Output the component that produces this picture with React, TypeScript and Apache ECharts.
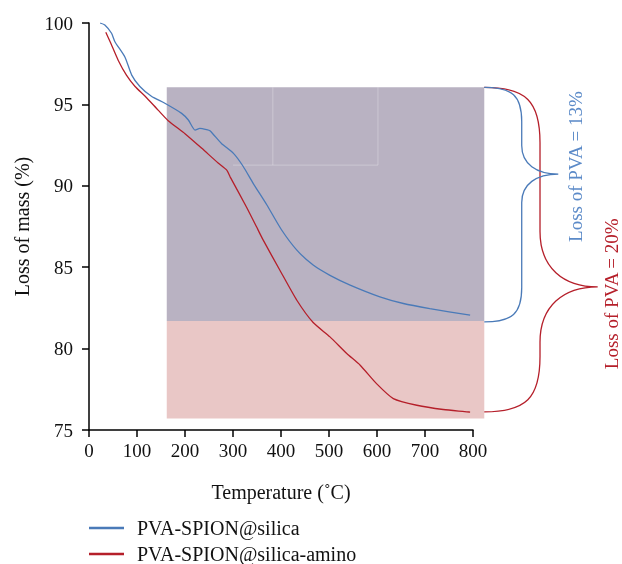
import React, { useEffect, useRef } from "react";
import * as echarts from "echarts";

// ---------- data ----------
const blueName = "PVA-SPION@silica";
const redName = "PVA-SPION@silica-amino";

const blueTemp = [23, 33, 47, 54, 75, 89, 106, 130, 158, 193, 207, 221, 231, 245, 252, 276, 301, 321, 342, 370, 401, 433, 467, 502, 544, 606, 655, 710, 794];
const blueMass = [100.0, 99.88, 99.37, 98.85, 97.9, 96.8, 96.1, 95.5, 95.07, 94.45, 94.04, 93.42, 93.53, 93.45, 93.38, 92.6, 91.99, 91.2, 90.15, 88.85, 87.3, 86.05, 85.13, 84.5, 83.9, 83.18, 82.77, 82.46, 82.05];

const redTemp = [35, 44, 61, 78, 96, 117, 144, 165, 200, 235, 269, 287, 294, 328, 349, 363, 398, 433, 467, 502, 537, 565, 599, 634, 683, 738, 794];
const redMass = [99.43, 98.85, 97.7, 96.8, 96.1, 95.5, 94.65, 94.0, 93.2, 92.3, 91.4, 90.96, 90.55, 88.7, 87.48, 86.66, 84.8, 82.97, 81.6, 80.72, 79.7, 78.98, 77.85, 76.93, 76.52, 76.26, 76.1];

const xTicks = { min: 0, max: 800, interval: 100 };
const yTicks = { min: 75, max: 100, interval: 5 };

// loss bands (mass %)
const bandStartTemp = 162;
const bandEndTemp = 823.5;
const purpleTop = 96.05;
const purpleBottom = 81.7;
const pinkBottom = 75.7;

const blueLabel = "Loss of PVA = 13%";
const redLabel = "Loss of PVA = 20%";

// ---------- annotation geometry (data units) ----------
const blueBrace = { x0: 823.5, xm: 901.5, xTip: 977.7, top: 96.05, tip: 90.72, bottom: 81.64, r1: 2.1, r2: 1.75 };
const redBrace = { x0: 823.5, xm: 939.6, xTip: 1059.8, top: 96.05, tip: 83.79, bottom: 76.11, r1: 3.4, r2: 3.4 };
const blueLabelPos = [1012.5, 91.18];
const redLabelPos = [1088, 83.37];

const BLUE = "#4a7ab8";
const RED = "#b51f2a";
const FONT = "'Liberation Serif', 'Times New Roman', serif";

function bracePath(api: any, b: any): string {
  const P = (t: number, v: number) => api.coord([t, v]);
  const [x0, yTop] = P(b.x0, b.top);
  const [xm] = P(b.xm, b.top);
  const [xTip, yTip] = P(b.xTip, b.tip);
  const [, yBot] = P(b.x0, b.bottom);
  const r1 = P(0, b.top - b.r1)[1] - yTop;
  const r2 = P(0, b.top - b.r2)[1] - yTop;
  const cx = x0 + (xm - x0) * 0.75;
  const tx = xm + (xTip - xm) * 0.4;
  return [
    `M${x0},${yTop}`,
    `C${cx},${yTop} ${xm},${yTop + r1 * 0.25} ${xm},${yTop + r1}`,
    `L${xm},${yTip - r2}`,
    `C${xm},${yTip - r2 * 0.35} ${tx},${yTip} ${xTip},${yTip}`,
    `C${tx},${yTip} ${xm},${yTip + r2 * 0.35} ${xm},${yTip + r2}`,
    `L${xm},${yBot - r1}`,
    `C${xm},${yBot - r1 * 0.25} ${cx},${yBot} ${x0},${yBot}`,
  ].join(" ");
}

function renderAnnotations(_params: any, api: any) {
  const [xL, yTop] = api.coord([bandStartTemp, purpleTop]);
  const [xR, yMid] = api.coord([bandEndTemp, purpleBottom]);
  const [, yBot] = api.coord([bandEndTemp, pinkBottom]);
  const [bx, by] = api.coord(blueLabelPos);
  const [rx, ry] = api.coord(redLabelPos);
  const [fx1] = api.coord([383, 0]);
  const [fx2, fy] = api.coord([602, 91.27]);
  const [fx0] = api.coord([300, 0]);
  const faint = { stroke: "rgba(255,255,255,0.28)", lineWidth: 1 };
  return {
    type: "group",
    children: [
      { type: "rect", shape: { x: xL, y: yTop, width: xR - xL, height: yMid - yTop }, style: { fill: "#b9b2c2" } },
      { type: "rect", shape: { x: xL, y: yMid, width: xR - xL, height: yBot - yMid }, style: { fill: "#e9c7c6" } },
      { type: "line", shape: { x1: fx2, y1: yTop, x2: fx2, y2: fy }, style: faint },
      { type: "line", shape: { x1: fx1, y1: yTop, x2: fx1, y2: fy }, style: faint },
      { type: "line", shape: { x1: fx0, y1: fy, x2: fx2, y2: fy }, style: faint },
      { type: "path", shape: { pathData: bracePath(api, redBrace) }, style: { stroke: RED, fill: "none", lineWidth: 1.3 } },
      { type: "path", shape: { pathData: bracePath(api, blueBrace) }, style: { stroke: BLUE, fill: "none", lineWidth: 1.3 } },
      {
        type: "text", x: bx, y: by, rotation: Math.PI / 2,
        style: { text: blueLabel, fill: "#5b8ac8", font: `19px ${FONT}`, align: "center", verticalAlign: "middle" },
      },
      {
        type: "text", x: rx, y: ry, rotation: Math.PI / 2,
        style: { text: redLabel, fill: RED, font: `19px ${FONT}`, align: "center", verticalAlign: "middle" },
      },
    ],
  };
}

export default function App() {
  const ref = useRef<HTMLDivElement>(null);
  useEffect(() => {
    if (!ref.current) return;
    const chart = echarts.init(ref.current, undefined, { renderer: "svg" });
    const blueData = blueTemp.map((t, i) => [t, blueMass[i]]);
    const redData = redTemp.map((t, i) => [t, redMass[i]]);
    const tickText = { color: "#111", fontFamily: FONT, fontSize: 19 };
    const titleText = { color: "#111", fontFamily: FONT, fontSize: 20 };
    chart.setOption({
      animation: false,
      textStyle: { fontFamily: FONT },
      grid: { left: 89, top: 23, width: 384, height: 407, containLabel: false },
      legend: {
        orient: "vertical",
        left: 89,
        top: 518,
        bottom: -80,
        padding: 0,
        icon: "rect",
        itemWidth: 35,
        itemHeight: 2.5,
        itemGap: 6,
        data: [blueName, redName],
        textStyle: { ...titleText, lineHeight: 20, padding: [0, 0, 0, 8] },
      },
      xAxis: {
        type: "value",
        min: xTicks.min,
        max: xTicks.max,
        interval: xTicks.interval,
        name: "Temperature (˚C)",
        nameLocation: "middle",
        nameGap: 52,
        nameTextStyle: titleText,
        axisLine: { lineStyle: { color: "#000", width: 1.5 } },
        axisTick: { length: 7, lineStyle: { color: "#000", width: 1.5 } },
        axisLabel: { ...tickText, margin: 11 },
        splitLine: { show: false },
      },
      yAxis: {
        type: "value",
        min: yTicks.min,
        max: yTicks.max,
        interval: yTicks.interval,
        name: "Loss of mass (%)",
        nameLocation: "middle",
        nameGap: 57,
        nameTextStyle: titleText,
        axisLine: { show: true, lineStyle: { color: "#000", width: 1.5 } },
        axisTick: { show: true, length: 7, lineStyle: { color: "#000", width: 1.5 } },
        axisLabel: { ...tickText, margin: 16 },
        splitLine: { show: false },
      },
      series: [
        {
          type: "custom",
          name: "annotations",
          renderItem: renderAnnotations,
          data: [[400, 90]],
          clip: false,
          silent: true,
          z: 1,
        },
        {
          type: "line",
          name: blueName,
          data: blueData,
          showSymbol: false,
          symbol: "none",
          smooth: 0.2,
          color: BLUE,
          lineStyle: { color: BLUE, width: 1.3 },
          z: 3,
        },
        {
          type: "line",
          name: redName,
          data: redData,
          showSymbol: false,
          symbol: "none",
          smooth: 0.2,
          color: RED,
          lineStyle: { color: RED, width: 1.3 },
          z: 3,
        },
      ],
    });
    return () => chart.dispose();
  }, []);
  return <div ref={ref} style={{ position: "fixed", left: 0, top: 0, width: 622, height: 564 }} />;
}
